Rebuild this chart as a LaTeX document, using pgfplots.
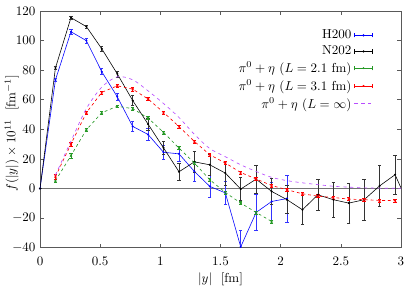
\documentclass[border=0pt]{standalone}
\usepackage{pgfplots}
\pgfplotsset{compat=1.18}
\usepackage{pgfplotstable}
\definecolor{cgreen}{rgb}{0.15,0.6,0.15}
\definecolor{cpurple}{rgb}{0.72,0.3,1}
\pgfplotstableread{
x y e
0 0 0
0.128 73.4 1
0.257 106 1.5
0.385 100 1.5
0.513 79 2
0.642 62 2.5
0.770 42 3.5
0.898 36.5 4
1.026 24.5 4.5
1.155 23.4 5
1.283 11.5 6.5
1.411 1.4 7.3
1.540 -3 8
1.668 -39.5 11
1.796 -16.2 12.4
1.925 -8.8 13
2.053 -6.8 16
}\hdata
\pgfplotstableread{
x y e
0 0 0
0.128 81.5 1
0.257 115.5 1
0.385 109.5 1.2
0.513 94.5 1.8
0.642 77.5 2
0.770 59.5 3.5
0.898 43.5 4
1.026 27.5 4.5
1.155 11.3 6
1.283 18 7.3
1.411 16 7
1.540 10.4 8
1.668 -0.4 7.7
1.796 6.3 9.6
1.925 -2 8.8
2.053 -7.6 9.5
2.181 -14.4 10
2.309 -4.3 10.6
2.438 -7.6 11.6
2.566 -9.9 13.5
2.694 -7.6 14
2.823 1.8 14
2.951 9.3 13
3.079 -14 13
}\ndata
\pgfplotstableread{
x y e
0.128 5.2 1.2
0.257 22.2 1.5
0.385 39.7 1
0.513 51.2 1
0.642 55.6 1
0.770 54 1
0.898 47.6 1
1.026 38 1
1.155 27.3 1
1.283 17.2 1
1.411 5.9 1
1.540 -2.7 1
1.668 -9.9 1
1.796 -16.2 1
1.925 -22.3 1
}\gdata
\pgfplotstableread{
x y e
0.128 8 1.5
0.257 30 1.5
0.385 51.2 1
0.513 65 1
0.642 69.4 1.2
0.770 67.2 1.2
0.898 60.5 1
1.026 51.5 1
1.155 41.9 1
1.283 31.8 1
1.411 22.8 1
1.540 17.2 1
1.668 10.8 1
1.796 6.4 1
1.925 2 1
2.053 -0.9 1
2.181 -3.6 1
2.309 -5.2 1
2.438 -6.1 1
2.566 -7.2 1
2.694 -7.6 1
2.823 -8.1 1
2.951 -8.1 1
}\rdata
\pgfplotstableread{
x y
0.128 9
0.257 32
0.385 54
0.513 68.5
0.642 75.5
0.770 73.5
0.898 66
1.026 57.5
1.155 48
1.283 36.6
1.411 27
1.540 21.5
1.668 16
1.796 11.5
1.925 7.5
2.053 5.3
2.181 3.8
2.309 2.6
2.438 1.5
2.566 0.9
2.694 0.4
2.823 0.2
2.951 0.1
3.0 0.1
}\pdata
\newcommand{\errleg}[1]{%
  \draw[#1, solid, line width=0.5pt] (0pt,0pt) -- (14pt,0pt);
  \draw[#1, solid, line width=0.5pt] (0pt,-1.6pt) -- (0pt,1.6pt) (14pt,-1.6pt) -- (14pt,1.6pt);
  \fill[#1] (7pt,0pt) circle (0.6pt);}
\begin{document}
\begin{tikzpicture}
\useasboundingbox (-30.8pt,-31pt) rectangle (285.4pt,190.5pt);
\begin{axis}[
  at={(0,0)}, anchor=south west,
  scale only axis,
  width=277.7pt, height=182pt,
  xmin=0, xmax=3, ymin=-40, ymax=120,
  xtick={0,0.5,...,3}, ytick={-40,-20,...,120},
  xticklabels={0,0.5,1,1.5,2,2.5,3},
  tick align=inside,
  axis line style={black!65},
  every tick/.style={black!65},
  major tick length=3pt,
  xticklabel style={yshift=-3.5pt},
  xlabel={$|y|$\ \ [fm]},
  ylabel={$f(|y|)\times 10^{11}$\ \ [fm$^{-1}$]},
  xlabel style={at={([yshift=-24.6pt]axis description cs:0.5,0)}, anchor=center},
  ylabel style={at={([xshift=-13pt,yshift=-3pt]axis description cs:0,0.5)}, anchor=south},
  clip=true,
  legend plot pos=right,
  legend cell align=right,
  legend style={draw=none, fill=none, at={(rel axis cs:0.923,0.932)}, anchor=north east, row sep=0pt, inner sep=0pt},
  error bars/error mark options={rotate=90, mark size=1.3pt, line width=0.4pt},
]
\addplot[black!55, line width=0.5pt, forget plot] coordinates {(0,0) (3,0)};
\addplot[blue, line width=0.45pt, mark=*, mark size=0.55pt,
  legend image code/.code={\errleg{blue}},
  error bars/.cd, y dir=both, y explicit,
  error bar style={blue!80, line width=0.4pt}]
  table[x=x, y=y, y error=e] {\hdata};
\addlegendentry{H200}
\addplot[black, line width=0.45pt, mark=*, mark size=0.55pt,
  legend image code/.code={\errleg{black}},
  error bars/.cd, y dir=both, y explicit,
  error bar style={black!80, line width=0.4pt}]
  table[x=x, y=y, y error=e] {\ndata};
\addlegendentry{N202}
\addplot[cgreen, line width=0.5pt, dash pattern=on 2.2pt off 2.2pt, mark=x, mark size=1.1pt, mark options={solid},
  legend image code/.code={\errleg{cgreen}},
  error bars/.cd, y dir=both, y explicit,
  error bar style={cgreen, solid, line width=0.4pt}]
  table[x=x, y=y, y error=e] {\gdata};
\addlegendentry{$\pi^0+\eta$ ($L=2.1$ fm)}
\addplot[red, line width=0.5pt, dash pattern=on 2.2pt off 2.2pt, mark=x, mark size=1.1pt, mark options={solid},
  legend image code/.code={\errleg{red}},
  error bars/.cd, y dir=both, y explicit,
  error bar style={red, solid, line width=0.4pt}]
  table[x=x, y=y, y error=e] {\rdata};
\addlegendentry{$\pi^0+\eta$ ($L=3.1$ fm)}
\addplot[cpurple, line width=0.5pt, dash pattern=on 2.5pt off 2.8pt, smooth, no markers,
  legend image code/.code={\draw[cpurple, line width=0.5pt, dash pattern=on 2.5pt off 2.8pt] (0pt,0pt) -- (14pt,0pt);}]
  table[x=x, y=y] {\pdata};
\addlegendentry{$\pi^0+\eta$ ($L=\infty$)}
\end{axis}
\end{tikzpicture}
\end{document}
